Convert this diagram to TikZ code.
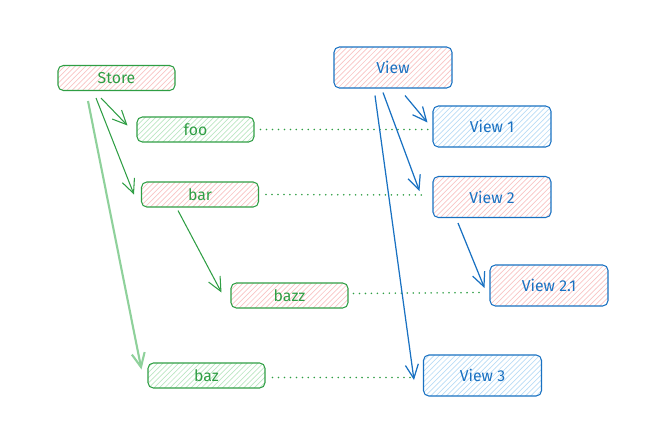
\documentclass[tikz,border=0pt]{standalone}
\usepackage{fontspec}
\setmainfont{Fira Sans}
\usetikzlibrary{patterns,arrows.meta,calc}
\definecolor{sgreen}{HTML}{2F9E44}
\definecolor{lgreen}{HTML}{8FD19B}
\definecolor{vblue}{HTML}{1971C2}
\definecolor{pinkhatch}{HTML}{F8C4C4}
\definecolor{greenhatch}{HTML}{BCE6C3}
\definecolor{bluehatch}{HTML}{BADCF5}
\tikzset{
  box/.style={draw, rounded corners=3pt, line width=0.6pt,
    font=\fontsize{9}{10}\selectfont, inner sep=0pt},
  sbox/.style={box, draw=sgreen, text=sgreen, minimum width=2.34cm, minimum height=0.5cm},
  vbox/.style={box, draw=vblue, text=vblue, minimum width=2.36cm, minimum height=0.82cm},
  pinky/.style={pattern=north east lines, pattern color=pinkhatch},
  greeny/.style={pattern=north east lines, pattern color=greenhatch},
  bluey/.style={pattern=north east lines, pattern color=bluehatch},
  garrow/.style={draw=sgreen, line width=0.6pt, -{Straight Barb[length=2.8mm,width=2.6mm]}},
  barrow/.style={draw=vblue, line width=0.7pt, -{Straight Barb[length=2.8mm,width=2.6mm]}},
  link/.style={draw=sgreen, line width=1pt, line cap=round, dash pattern=on 0pt off 3.4pt}
}
\begin{document}
\begin{tikzpicture}[x=0.02cm,y=-0.02cm]
\useasboundingbox (0,0) rectangle (650,426);

% store side
\node[sbox, pinky] (store) at (116.5,78) {Store};
\node[sbox, greeny] (foo) at (195.5,129.5) {foo};
\node[sbox, pinky] (bar) at (200,194.5) {bar};
\node[sbox, pinky] (bazz) at (289.5,295.5) {bazz};
\node[sbox, greeny] (baz) at (206.5,375.5) {baz};

% view side
\node[vbox, pinky] (view) at (393,67.5) {View};
\node[vbox, bluey] (v1) at (492,126.5) {View 1};
\node[vbox, pinky] (v2) at (492,197) {View 2};
\node[vbox, pinky] (v21) at (549,285.5) {View 2.1};
\node[vbox, bluey] (v3) at (482.5,375.5) {View 3};

% dotted links
\draw[link] ($(foo.east)+(6,0)$) -- ($(v1.west)+(-3,3)$);
\draw[link] ($(bar.east)+(7,0)$) -- ($(v2.west)+(-8,-2)$);
\draw[link] ($(bazz.east)+(5,-2)$) -- ($(v21.west)+(-5,7)$);
\draw[link] ($(baz.east)+(7,2)$) -- ($(v3.west)+(-9,2)$);

% green arrows
\draw[garrow] ($(store.south)+(-15.5,7)$) -- ($(foo.west)+(-9,-4)$);
\draw[garrow] ($(store.south)+(-20.5,7)$) -- ($(bar.west)+(-7,0)$);
\draw[garrow] ($(bar.south)+(-22,3)$) -- ($(bazz.west)+(-9,-3)$);
\draw[draw=lgreen, line width=1.2pt, -{Straight Barb[length=2.8mm,width=2.6mm]}]
  ($(store.south)+(-28.5,10)$) -- ($(baz.west)+(-6,-6)$);

% blue arrows
\draw[barrow] ($(view.south)+(12,7)$) -- ($(v1.west)+(-5,-4)$);
\draw[barrow] ($(view.south)+(-10,4)$) -- ($(v2.west)+(-13,-6)$);
\draw[barrow] ($(view.south)+(-18,7)$) -- ($(v3.west)+(-9,4.5)$);
\draw[barrow] ($(v2.south)+(-34,5)$) -- ($(v21.west)+(-5,2.5)$);
\end{tikzpicture}
\end{document}
